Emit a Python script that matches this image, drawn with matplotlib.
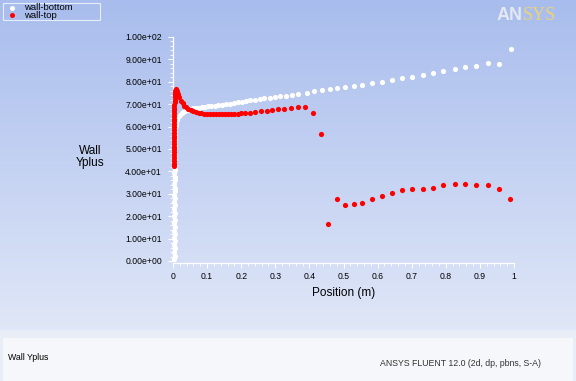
import numpy as np
import matplotlib
matplotlib.use("Agg")
from matplotlib import pyplot as plt
from matplotlib.ticker import AutoMinorLocator, FormatStrFormatter, MultipleLocator

plt.rcParams['font.family'] = ['Liberation Sans', 'DejaVu Sans']

## DATA --------------------------------------------------------------
# wall-bottom (white): near-wall column, then the curve along the wall
bottom_x = [0.004, 0.005, 0.003, 0.006, 0.004, 0.005, 0.003, 0.006, 0.004, 0.005,
            0.003, 0.006, 0.004, 0.005, 0.004, 0.006, 0.003, 0.005, 0.004, 0.006,
            0.005, 0.004, 0.006, 0.005, 0.004, 0.006, 0.005, 0.004, 0.006, 0.005,
            0.004, 0.006, 0.005, 0.006, 0.005, 0.006, 0.007, 0.006, 0.007, 0.008,
            0.009, 0.012, 0.016, 0.020, 0.025, 0.030, 0.036, 0.043, 0.050, 0.058,
            0.066, 0.075, 0.084, 0.093, 0.102, 0.112, 0.122, 0.133, 0.144, 0.155,
            0.166, 0.178, 0.190, 0.202, 0.214, 0.227, 0.240, 0.254, 0.268, 0.283,
            0.298, 0.314, 0.331, 0.348, 0.366, 0.392, 0.413, 0.436, 0.459, 0.480,
            0.503, 0.530, 0.555, 0.584, 0.612, 0.642, 0.671, 0.701, 0.732, 0.762,
            0.793, 0.826, 0.857, 0.890, 0.924, 0.955, 0.990]
bottom_y = [0.8, 2.4, 4.0, 5.6, 7.2, 8.8, 10.4, 12.0, 13.6, 15.2,
            16.8, 18.4, 20.0, 21.6, 23.2, 24.8, 26.4, 28.0, 29.6, 31.2,
            32.8, 34.4, 36.0, 37.6, 39.2, 40.8, 42.4, 44.0, 45.6, 47.2,
            48.8, 50.4, 52.0, 53.6, 55.0, 56.4, 57.6, 58.7, 59.6, 60.4,
            61.0, 62.8, 64.2, 65.2, 66.0, 66.6, 67.1, 67.5, 67.8, 68.1,
            68.3, 68.5, 68.7, 68.9, 69.0, 69.2, 69.4, 69.6, 69.8, 70.0,
            70.3, 70.5, 70.8, 71.1, 71.4, 71.7, 72.0, 72.3, 72.6, 72.9,
            73.2, 73.5, 73.8, 74.2, 74.5, 75.1, 75.9, 76.3, 76.8, 77.1,
            77.8, 78.3, 78.7, 79.5, 79.9, 80.8, 81.7, 82.1, 83.2, 83.8,
            84.7, 85.6, 86.5, 87.2, 88.4, 87.9, 94.6]

# wall-top (red)
top_x = [0.002, 0.002, 0.003, 0.002, 0.003, 0.002, 0.003, 0.002, 0.003, 0.002,
         0.003, 0.002, 0.003, 0.003, 0.002, 0.003, 0.003, 0.003, 0.004, 0.003,
         0.004, 0.004, 0.004, 0.005, 0.005, 0.005, 0.006, 0.006, 0.007, 0.008,
         0.009, 0.012, 0.015, 0.019, 0.023, 0.028, 0.033, 0.039, 0.045, 0.052,
         0.059, 0.067, 0.075, 0.083, 0.091, 0.100, 0.108, 0.117, 0.126, 0.135,
         0.144, 0.153, 0.162, 0.171, 0.180, 0.190, 0.200, 0.212, 0.226, 0.241,
         0.257, 0.275, 0.290, 0.308, 0.325, 0.345, 0.366, 0.388, 0.411, 0.433,
         0.456, 0.481, 0.505, 0.530, 0.555, 0.584, 0.612, 0.642, 0.671, 0.701,
         0.732, 0.762, 0.793, 0.826, 0.857, 0.890, 0.924, 0.955, 0.988]
top_y = [42.3, 43.5, 44.8, 46.0, 47.2, 48.5, 49.8, 51.0, 52.3, 53.5,
         54.8, 56.0, 57.2, 58.5, 59.8, 61.0, 62.3, 63.5, 64.8, 66.0,
         67.2, 68.5, 69.7, 70.9, 72.0, 73.1, 74.1, 75.0, 75.8, 76.4,
         76.8, 76.0, 74.6, 73.0, 71.6, 70.4, 69.4, 68.6, 67.9, 67.4,
         66.9, 66.5, 66.2, 66.0, 65.8, 65.7, 65.6, 65.6, 65.5, 65.5,
         65.5, 65.5, 65.5, 65.6, 65.7, 65.8, 65.9, 66.1, 66.2, 66.5,
         66.8, 67.0, 67.3, 67.7, 68.0, 68.4, 68.8, 68.9, 65.9, 56.6,
         16.7, 27.7, 25.1, 25.4, 25.9, 27.7, 28.9, 30.2, 31.6, 32.0,
         32.0, 32.7, 34.1, 34.5, 34.5, 34.1, 34.1, 32.0, 27.7]

series_names = ["wall-bottom", "wall-top"]
series_colors = ["white", "#ff0000"]

## FIGURE ------------------------------------------------------------
fig = plt.figure(figsize=(5.76, 3.81), dpi=100)

# background gradient + bottom panel
bg = fig.add_axes([0, 0, 1, 1], zorder=-10)
grad = np.linspace(0, 1, 256)[:, None]
top_c = np.array([0.66, 0.74, 0.93])
bot_c = np.array([0.91, 0.93, 0.975])
img = top_c[None, None, :] * (1 - grad[:, :, None]) + bot_c[None, None, :] * grad[:, :, None]
bg.imshow(img, aspect='auto', extent=[0, 1, 0, 1], origin='upper')
bg.add_patch(plt.Rectangle((0, 0), 1, 51 / 381, color='#e9edf5', lw=0))
bg.add_patch(plt.Rectangle((3 / 576, 0), 570 / 576, 43 / 381, color='#f6f7fb', lw=0))
bg.set_xlim(0, 1)
bg.set_ylim(0, 1)
bg.axis('off')

ax = fig.add_axes([173 / 576, 1 - 261 / 381, 341 / 576, 224 / 381])
ax.set_facecolor('none')
ax.scatter(bottom_x, bottom_y, s=14, color=series_colors[0], lw=0, zorder=3, clip_on=False)
ax.scatter(top_x, top_y, s=14, color=series_colors[1], lw=0, zorder=4, clip_on=False)

ax.set_xlim(0, 1)
ax.set_ylim(0, 100)
for side in ['top', 'right']:
    ax.spines[side].set_visible(False)
for side in ['left', 'bottom']:
    ax.spines[side].set_color('white')
    ax.spines[side].set_linewidth(0.9)
ax.spines['bottom'].set_position(('outward', 1.5))

ax.yaxis.set_major_locator(MultipleLocator(10))
ax.xaxis.set_minor_locator(AutoMinorLocator(5))
ax.yaxis.set_minor_locator(AutoMinorLocator(5))
ax.yaxis.set_major_formatter(FormatStrFormatter('%.2e'))
ax.set_xticks(np.arange(0, 1.01, 0.1))
ax.set_xticklabels(['0', '0.1', '0.2', '0.3', '0.4', '0.5', '0.6', '0.7', '0.8', '0.9', '1'])
ax.xaxis.set_minor_locator(AutoMinorLocator(5))
ax.tick_params(which='major', length=3.5, width=0.8, color='white', labelsize=6.2, labelcolor='black')
ax.tick_params(which='minor', length=2, width=0.6, color='white')
ax.tick_params(axis='y', pad=4.5)
ax.tick_params(axis='x', pad=3)

fig.text(344 / 576, 1 - 293 / 381, 'Position (m)', ha='center', va='center', fontsize=8.5)
fig.text(90 / 576, 1 - 157 / 381, 'Wall\nYplus', ha='center', va='center', fontsize=8.5,
         linespacing=1.1)

# legend box (top left)
bg.add_patch(plt.Rectangle((3 / 576, 1 - 20 / 381), 97 / 576, 17 / 381, fill=False,
                           ec='#e6ecf8', lw=0.8))
bg.scatter([12 / 576], [1 - 8 / 381], s=13, color=series_colors[0], lw=0)
bg.scatter([12 / 576], [1 - 15 / 381], s=13, color=series_colors[1], lw=0)
fig.text(24 / 576, 1 - 7.5 / 381, series_names[0], ha='left', va='center', fontsize=6.8)
fig.text(24 / 576, 1 - 15.5 / 381, series_names[1], ha='left', va='center', fontsize=6.8)

# ANSYS logo
fig.text(497 / 576, 1 - 15 / 381, 'AN', ha='left', va='center', fontsize=13,
         fontweight='bold', color='#e4e8f0')
fig.text(523 / 576, 1 - 15 / 381, 'SYS', ha='left', va='center', fontsize=13,
         family='Liberation Serif', color='#ead27a')

# bottom panel text
fig.text(8 / 576, 1 - 358 / 381, 'Wall Yplus', ha='left', va='center', fontsize=6.3)
fig.text(380 / 576, 1 - 364 / 381, 'ANSYS FLUENT 12.0 (2d, dp, pbns, S-A)', ha='left',
         va='center', fontsize=6.3, color='#333333')

fig.savefig('out.png', dpi=100)
